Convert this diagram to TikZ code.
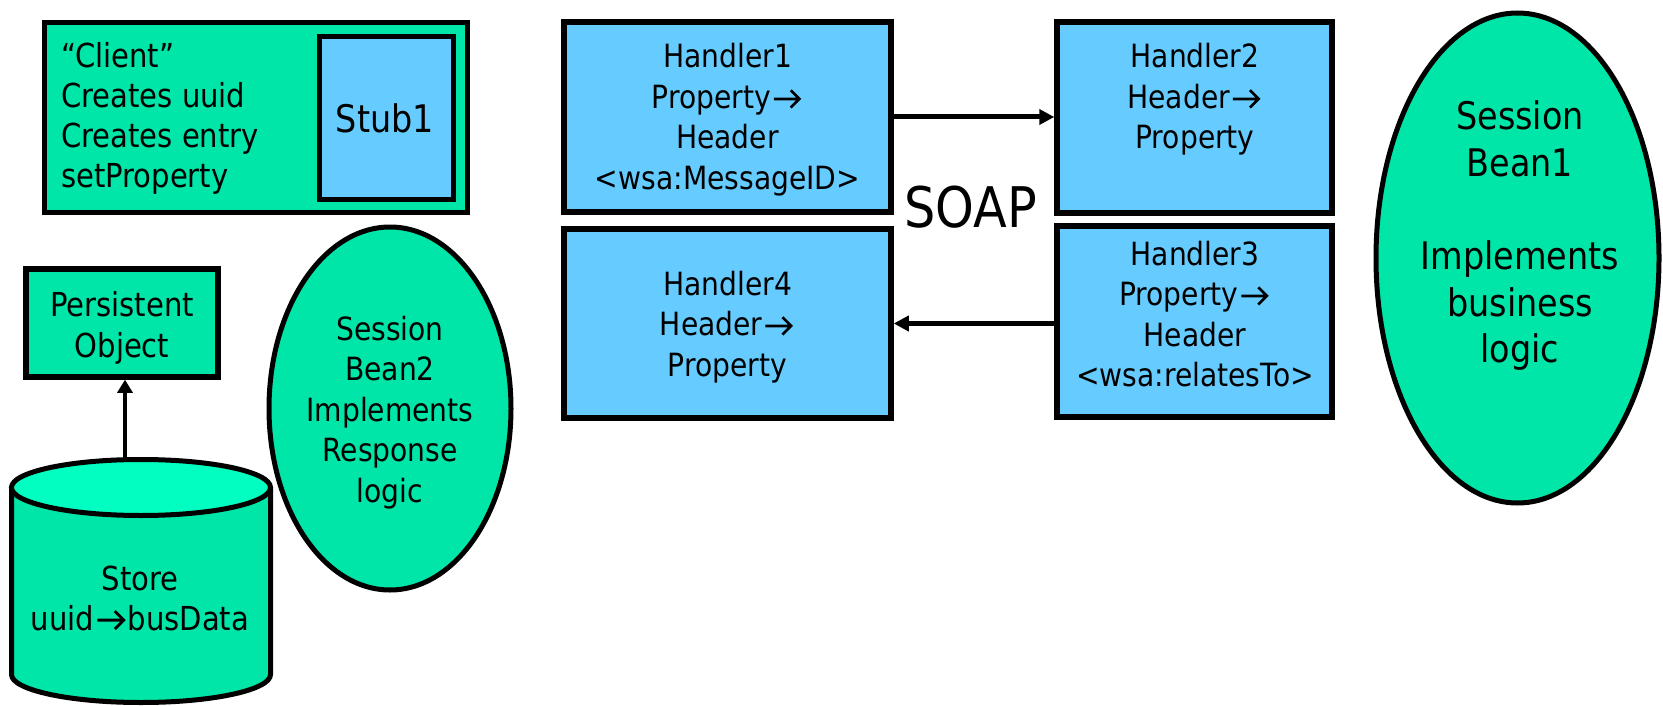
\documentclass[tikz,border=0pt]{standalone}
\usepackage{fontspec}
\setmainfont{DejaVu Sans}[FakeStretch=0.88]
\usetikzlibrary{arrows.meta,shapes.geometric}

\definecolor{beangreen}{RGB}{0,230,168}
\definecolor{lidgreen}{RGB}{0,255,192}
\definecolor{handlerblue}{RGB}{102,204,255}

% stacked lines whose first baseline is the node's base anchor
\newcommand\stackc[1]{\begin{tabular}[t]{@{}c@{}}#1\end{tabular}}
\newcommand\stackl[1]{\begin{tabular}[t]{@{}l@{}}#1\end{tabular}}
% open-headed arrow sized to the surrounding text
\newcommand\maps{\kern0.05em\tikz[baseline=0pt,x=1em,y=1em]
  \draw[black,line width=0.085em,line cap=butt,line join=miter]
    (0,0.3)--(0.8,0.3) (0.53,0.03)--(0.8,0.3)--(0.53,0.57);\kern0.08em}

\tikzset{
  greenbox/.style={draw, line width=5.5pt, fill=beangreen, inner sep=0pt},
  bluebox/.style={draw, line width=5.5pt, fill=handlerblue, inner sep=0pt},
  bean/.style={ellipse, draw, line width=5pt, fill=beangreen, inner sep=0pt},
  label text/.style={anchor=base, inner sep=0pt, text=black},
  flow/.style={line width=5pt, -{Triangle[length=15pt,width=15pt]}},
}

\begin{document}
\begin{tikzpicture}[x=1pt,y=-1pt]
\useasboundingbox (0,0) rectangle (1663,706);

% client with its stub
\node[greenbox, minimum width=423pt, minimum height=190pt] (client) at (256,117.5) {};
\node[bluebox, minimum width=134pt, minimum height=163pt] (stub) at (386.5,118) {};
\node[label text, anchor=base west, font=\fontsize{33}{40}\selectfont] (clienttext) at (61,68)
  {\stackl{“Client”\\Creates uuid\\Creates entry\\setProperty}};
\node[label text, font=\fontsize{38}{44}\selectfont] (stubtext) at (385,133) {Stub1};

% persistent object fed from the store
\node[greenbox, minimum width=192pt, minimum height=108pt] (persist) at (122,323) {};
\node[label text, font=\fontsize{33}{41}\selectfont] (persisttext) at (122,316)
  {\stackc{Persistent\\Object}};

% store cylinder
\fill[beangreen] (11.5,487.5) -- (11.5,674.5)
  arc[start angle=180, end angle=0, x radius=129.5, y radius=28] -- (270.5,487.5) -- cycle;
\draw[line width=5pt] (11.5,487.5) -- (11.5,674.5)
  arc[start angle=180, end angle=0, x radius=129.5, y radius=28] -- (270.5,487.5);
\filldraw[fill=lidgreen, line width=5pt] (141,487.5) ellipse[x radius=129.5, y radius=28];
\coordinate (storetop) at (125,459.5);
\node[label text, font=\fontsize{33}{40}\selectfont] (store) at (140,590)
  {\stackc{Store\\uuid\maps busData}};
\draw[line width=4.5pt, -{Triangle[length=13pt,width=15pt]}] (storetop) -- (storetop |- persist.south);

% session bean 2
\node[bean, minimum width=242pt, minimum height=363pt] (bean2) at (390,408.5) {};
\node[label text, font=\fontsize{32}{40.5}\selectfont] (bean2text) at (390,340)
  {\stackc{Session\\Bean2\\Implements\\Response\\logic}};

% handler chain
\node[bluebox, minimum width=327pt, minimum height=190pt] (h1) at (727.5,117) {};
\node[bluebox, minimum width=275pt, minimum height=191pt] (h2) at (1194.5,117.5) {};
\node[bluebox, minimum width=275pt, minimum height=191pt] (h3) at (1194.5,321.5) {};
\node[bluebox, minimum width=327pt, minimum height=189pt] (h4) at (727.5,323.5) {};

\node[label text, font=\fontsize{32}{40.5}\selectfont] (h1text) at (727.5,68)
  {\stackc{Handler1\\Property\maps\\Header\\<wsa:MessageID>}};
\node[label text, font=\fontsize{32}{40.5}\selectfont] (h2text) at (1195,68)
  {\stackc{Handler2\\Header\maps\\Property}};
\node[label text, font=\fontsize{32}{40.5}\selectfont] (h3text) at (1195,265)
  {\stackc{Handler3\\Property\maps\\Header\\<wsa:relatesTo>}};
\node[label text, font=\fontsize{32}{40.5}\selectfont] (h4text) at (727.5,295)
  {\stackc{Handler4\\Header\maps\\Property}};

\draw[flow] (h1.east) -- (h1.east -| h2.west);
\draw[flow] (h4.east -| h3.west) -- (h4.east);

\node[label text, font=\fontsize{56}{60}\selectfont] (soap) at (970.5,227) {SOAP};

% session bean 1
\node[bean, minimum width=283pt, minimum height=490pt] (bean1) at (1517.5,258) {};
\node[label text, font=\fontsize{38}{46.6}\selectfont] (bean1text) at (1520,130)
  {\stackc{Session\\Bean1\\ \\Implements\\business\\logic}};
\end{tikzpicture}
\end{document}
